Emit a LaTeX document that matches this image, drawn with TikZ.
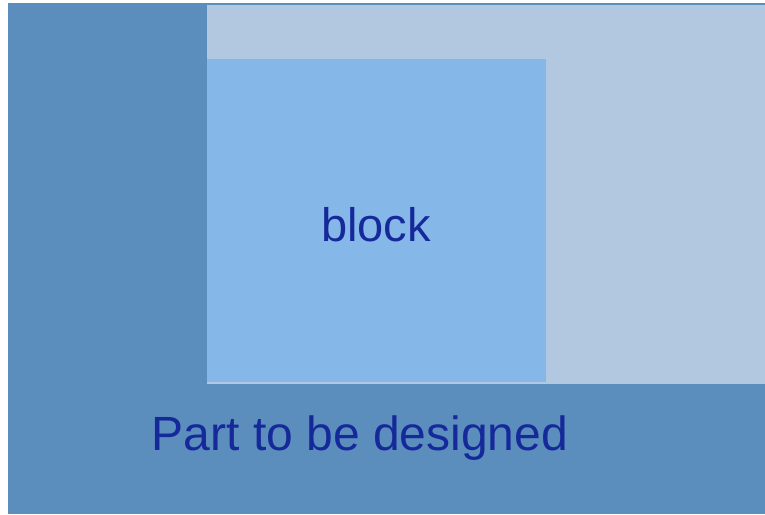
\documentclass[tikz,border=0pt]{standalone}
\usepackage{fontspec}
\setmainfont{Liberation Sans}
\usepackage{tikz}

\definecolor{partblue}{HTML}{5B8DBD}
\definecolor{freeblue}{HTML}{B1C8E0}
\definecolor{blockblue}{HTML}{85B7E8}
\definecolor{labelblue}{HTML}{16299A}

\tikzset{
	label text/.style={text=labelblue, inner sep=0pt, anchor=base,
		font=\fontsize{#1}{#1}\selectfont},
	label text/.default=46,
}

\begin{document}
\begin{tikzpicture}[x=1pt, y=-1pt]

% parameters %{{{2

	\def\width{765}
	\def\height{514}

	\useasboundingbox (0,0) rectangle (\width,\height);

% regions %{{{2

	\fill[partblue] (8,3) rectangle (\width,\height);
	\fill[freeblue] (207,5) rectangle (\width,384);
	\fill[blockblue] (207,59) rectangle (546,382);

% labels %{{{2

	\node[label text=47] (blocklabel) at (376,241) {block};
	\node[label text=48] (partlabel) at (360,450) {Part to be designed};

% closing %{{{2

\end{tikzpicture}
\end{document}
